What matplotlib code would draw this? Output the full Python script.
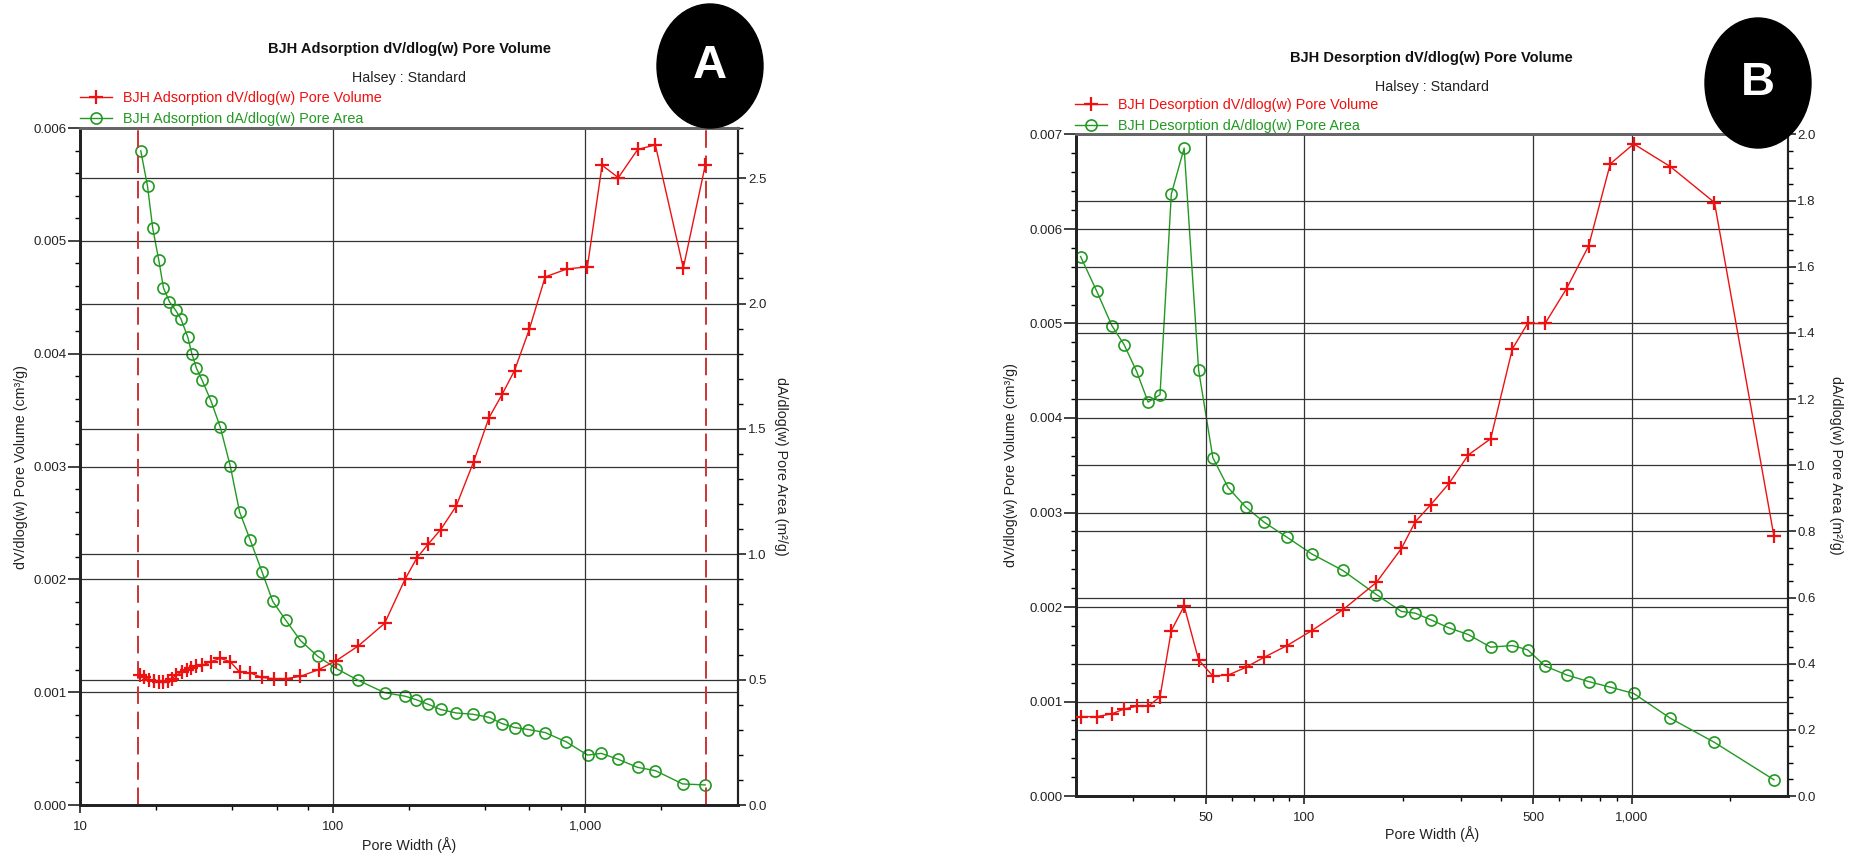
import numpy as np
import matplotlib
matplotlib.use("Agg")
import matplotlib.pyplot as plt
from matplotlib.patches import Ellipse
from matplotlib.ticker import FixedLocator, FixedFormatter, MultipleLocator, FormatStrFormatter

plt.rcParams['font.family'] = ['Liberation Sans', 'DejaVu Sans']

# ---- Panel A: adsorption ----
ads_width_vol = [17.3, 17.9, 18.8, 19.7, 20.6, 21.4, 22.2, 23.1, 24.0, 25.3, 26.5, 27.5,
                 28.8, 30.4, 33.0, 35.9, 39.3, 42.8, 47.2, 52.5, 58.4, 65.3, 74.5, 88.0,
                 103.4, 126.3, 160.5, 193.2, 215.4, 238.2, 267.3, 308.2, 360.8, 414.9,
                 468.4, 524.1, 600.6, 692.9, 843.9, 1018, 1164, 1350, 1610, 1891, 2440, 2980]
ads_volume = [0.00115, 0.00113, 0.00111, 0.00110, 0.00109, 0.00109, 0.00110, 0.00112,
              0.00115, 0.00118, 0.00120, 0.00121, 0.00123, 0.00124, 0.00127, 0.00130,
              0.00127, 0.00118, 0.00117, 0.00113, 0.00112, 0.00112, 0.00114, 0.00120,
              0.00128, 0.00141, 0.00161, 0.00200, 0.00219, 0.00231, 0.00244, 0.00265,
              0.00304, 0.00343, 0.00364, 0.00385, 0.00422, 0.00468, 0.00475, 0.00477,
              0.00567, 0.00556, 0.00581, 0.00585, 0.00476, 0.00567]

ads_width_area = [17.4, 18.5, 19.4, 20.5, 21.4, 22.6, 23.9, 25.1, 26.7, 27.7, 28.9, 30.4,
                  33.0, 35.9, 39.3, 42.8, 47.2, 52.6, 57.9, 65.3, 74.5, 87.3, 103.4, 126.3,
                  160.5, 193.2, 214, 238.2, 267.3, 308.2, 358, 414.9, 467, 524.1, 595,
                  692.9, 839, 1020, 1155, 1350, 1610, 1891, 2425, 2980]
ads_area = [2.609, 2.468, 2.300, 2.173, 2.062, 2.007, 1.973, 1.938, 1.866, 1.800, 1.742,
            1.695, 1.611, 1.507, 1.353, 1.169, 1.056, 0.928, 0.812, 0.736, 0.656, 0.593,
            0.544, 0.497, 0.448, 0.434, 0.420, 0.402, 0.381, 0.367, 0.362, 0.350, 0.325,
            0.309, 0.301, 0.289, 0.252, 0.199, 0.206, 0.182, 0.150, 0.137, 0.084, 0.080]
ads_limits = [17.0, 3000]  # dashed range markers

# ---- Panel B: desorption ----
des_width = [20.7, 23.2, 25.8, 28.1, 30.7, 33.3, 36.2, 39.2, 42.9, 47.5, 52.5, 58.5, 66.1,
             75.5, 88.3, 105.3, 131, 166, 198, 218, 243, 277, 317, 371, 432, 481, 544,
             633, 739, 861, 1015, 1314, 1792, 2723]
des_volume = [0.00084, 0.00084, 0.00087, 0.00092, 0.00095, 0.00095, 0.00105, 0.00175,
              0.00201, 0.00144, 0.00127, 0.00128, 0.00136, 0.00147, 0.00159, 0.00175,
              0.00197, 0.00226, 0.00262, 0.00290, 0.00308, 0.00331, 0.00361, 0.00378,
              0.00473, 0.00500, 0.00500, 0.00537, 0.00582, 0.00669, 0.00690, 0.00666,
              0.00628, 0.00275]
des_area = [1.631, 1.526, 1.422, 1.365, 1.284, 1.191, 1.213, 1.820, 1.959, 1.288, 1.023,
            0.932, 0.874, 0.827, 0.783, 0.732, 0.682, 0.609, 0.558, 0.553, 0.533, 0.508,
            0.488, 0.450, 0.455, 0.442, 0.393, 0.366, 0.346, 0.329, 0.310, 0.235, 0.162, 0.049]

RED = '#ee1111'
GREEN = '#229922'
GRID = '#333333'
W, H = 1856, 855

fig = plt.figure(figsize=(W / 100, H / 100), dpi=100)


def px_box(x0, y0, x1, y1):
    return [x0 / W, 1 - y1 / H, (x1 - x0) / W, (y1 - y0) / H]


def style_axes(ax, ax2):
    for a in (ax, ax2):
        a.spines['left'].set_color('#222222')
        a.spines['left'].set_linewidth(2)
        a.spines['bottom'].set_color('#222222')
        a.spines['bottom'].set_linewidth(2)
        a.spines['top'].set_color('#666666')
        a.spines['top'].set_linewidth(2)
        a.spines['right'].set_color('#222222')
        a.spines['right'].set_linewidth(1.5)
    ax.tick_params(axis='y', which='major', length=8.5, width=1.2, pad=1, labelsize=9.5,
                   colors='#222222')
    ax.tick_params(axis='y', which='minor', length=3.6, width=1.0)
    ax.tick_params(axis='x', which='major', length=5.5, width=1.2, pad=6, labelsize=9.5,
                   colors='#222222')
    ax.tick_params(axis='x', which='minor', length=3.6, width=1.0)
    ax2.tick_params(axis='y', which='major', length=5.5, width=1.2, pad=1.5, labelsize=9.5,
                    colors='#222222')
    ax2.tick_params(axis='y', which='minor', length=3.6, width=1.0)
    ax.grid(True, axis='both', which='major', color=GRID, lw=0.9)
    ax2.grid(True, axis='y', which='major', color=GRID, lw=0.9)
    ax.set_zorder(ax2.get_zorder() + 1)
    ax.patch.set_visible(False)


def panel(box, widths_v, vol, widths_a, area, xlim, vmax, amax, vstep, astep, aminor,
          xmajor, xlabels, xminor, title, vol_label, area_label, leg_xy, lab_pos, badge):
    ax = fig.add_axes(px_box(*box))
    ax2 = ax.twinx()
    ax.set_xscale('log')
    ax.set_xlim(*xlim)
    ax.set_ylim(0, vmax)
    ax2.set_ylim(0, amax)

    ln_v, = ax.plot(widths_v, vol, color=RED, lw=1.0, marker='+', ms=10, mew=1.6, zorder=3)
    ln_a, = ax2.plot(widths_a, area, color=GREEN, lw=1.0, marker='o', ms=8,
                     mfc='none', mew=1.2, zorder=3)

    ax.xaxis.set_major_locator(FixedLocator(xmajor))
    ax.xaxis.set_major_formatter(FixedFormatter(xlabels))
    ax.xaxis.set_minor_locator(FixedLocator(xminor))
    ax.xaxis.set_minor_formatter(FixedFormatter([''] * len(xminor)))
    ax.yaxis.set_major_locator(MultipleLocator(vstep))
    ax.yaxis.set_minor_locator(MultipleLocator(0.0002))
    ax.yaxis.set_major_formatter(FormatStrFormatter('%.3f'))
    ax2.yaxis.set_major_locator(MultipleLocator(astep))
    ax2.yaxis.set_minor_locator(MultipleLocator(aminor))
    ax2.yaxis.set_major_formatter(FormatStrFormatter('%.1f'))
    style_axes(ax, ax2)

    ax.set_xlabel('Pore Width (Å)', fontsize=10.3, color='#222222')
    ax.xaxis.set_label_coords(0.5, lab_pos[2])
    ax.set_ylabel('dV/dlog(w) Pore Volume (cm³/g)', fontsize=10.3, color='#222222')
    ax.yaxis.set_label_coords(lab_pos[0], 0.5)
    ax2.set_ylabel('dA/dlog(w) Pore Area (m²/g)', fontsize=10.3, color='#222222',
                   rotation=270, va='center')
    ax2.yaxis.set_label_coords(lab_pos[1], 0.5)

    cx = (box[0] + box[2]) / 2
    fig.text(cx / W, 1 - title[2] / H, title[0], ha='center', va='center',
             fontsize=10.5, fontweight='bold', color='#111111')
    fig.text(cx / W, 1 - title[3] / H, title[1], ha='center', va='center',
             fontsize=10.3, color='#222222')

    fig.legend([ln_v, ln_a], [vol_label, area_label], loc='upper left',
               bbox_to_anchor=(leg_xy[0] / W, 1 - leg_xy[1] / H),
               bbox_transform=fig.transFigure, frameon=False, borderpad=0,
               borderaxespad=0, handlelength=2.2, handletextpad=0.75,
               labelspacing=0.46, fontsize=10.4, labelcolor='linecolor', numpoints=1)

    bx, by, bw, bh, letter = badge
    fig.add_artist(Ellipse((bx / W, 1 - by / H), bw / W, bh / H, transform=fig.transFigure,
                           facecolor='black', edgecolor='black', zorder=10))
    fig.text(bx / W, 1 - by / H, letter, ha='center', va='center', fontsize=34,
             fontweight='bold', color='white', zorder=11)
    return ax, ax2


axA, axA2 = panel((80, 128, 738.3, 805), ads_width_vol, ads_volume, ads_width_area, ads_area,
                  (10, 4027), 0.006, 2.7, 0.001, 0.5, 0.1,
                  [10, 100, 1000], ['10', '100', '1,000'],
                  [20, 40, 60, 80, 200, 400, 600, 800, 2000],
                  ('BJH Adsorption dV/dlog(w) Pore Volume', 'Halsey : Standard', 49, 78),
                  'BJH Adsorption dV/dlog(w) Pore Volume',
                  'BJH Adsorption dA/dlog(w) Pore Area',
                  (80, 91), (-0.079, 1.065, -0.047), (710, 66, 106, 124, 'A'))
for xv in ads_limits:
    axA.axvline(xv, color='#cc3333', lw=1.4, ls=(0, (9, 4)), zorder=2)

axB, axB2 = panel((1075.7, 134.5, 1787.7, 796), des_width, des_volume, des_width, des_area,
                  (20, 3000), 0.007, 2.0, 0.001, 0.2, 0.05,
                  [50, 100, 500, 1000], ['50', '100', '500', '1,000'],
                  [30, 40, 60, 70, 80, 90, 200, 300, 400, 600, 700, 800, 900, 2000],
                  ('BJH Desorption dV/dlog(w) Pore Volume', 'Halsey : Standard', 58, 87),
                  'BJH Desorption dV/dlog(w) Pore Volume',
                  'BJH Desorption dA/dlog(w) Pore Area',
                  (1075, 98), (-0.081, 1.068, -0.045), (1758, 83, 106, 130, 'B'))

fig.savefig('out.png', dpi=100)
